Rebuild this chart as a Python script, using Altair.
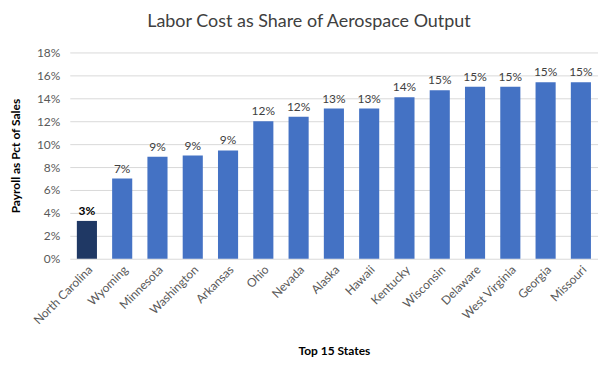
import altair as alt
import pandas as pd

states = ["North Carolina", "Wyoming", "Minnesota", "Washington", "Arkansas", "Ohio",
          "Nevada", "Alaska", "Hawaii", "Kentucky", "Wisconsin", "Delaware",
          "West Virginia", "Georgia", "Missouri"]
values = [0.033, 0.070, 0.089, 0.090, 0.0945, 0.120, 0.124, 0.131, 0.131, 0.141,
          0.147, 0.150, 0.150, 0.154, 0.154]
highlight = ["yes"] + ["no"] * 14
y_ticks = [0.0, 0.02, 0.04, 0.06, 0.08, 0.10, 0.12, 0.14, 0.16, 0.18]

df = pd.DataFrame({"state": states, "value": values, "hl": highlight})

FONT = "Lato"

x = alt.X("state:N", sort=states, title="Top 15 States",
          scale=alt.Scale(paddingInner=0.43, paddingOuter=0.2),
          axis=alt.Axis(labelAngle=-45, labelFontSize=12, labelColor="#595959",
                        labelFont=FONT, ticks=False, domain=False, labelPadding=5,
                        titleFont=FONT, titleFontSize=12, titleFontWeight="bold",
                        titleColor="#000000", titlePadding=20))
y = alt.Y("value:Q", title="Payroll as Pct of Sales",
          scale=alt.Scale(domain=[0, 0.18], nice=False),
          axis=alt.Axis(format=".0%", values=y_ticks, labelOverlap=False,
                        labelFontSize=12, labelColor="#595959", labelFont=FONT,
                        ticks=False, domain=False, labelPadding=10,
                        gridColor="#d9d9d9", gridWidth=1,
                        titleFont=FONT, titleFontSize=12, titleFontWeight="bold",
                        titleColor="#000000", titlePadding=14))

base = alt.Chart(df).encode(x=x, y=y)

bars = base.mark_bar().encode(
    color=alt.Color("hl:N", scale=alt.Scale(domain=["yes", "no"], range=["#1f3864", "#4472c4"]),
                    legend=None),
)

labels_n = base.transform_filter(alt.datum.hl == "no").mark_text(
    dy=-10, fontSize=12, font=FONT, color="#404040").encode(
    text=alt.Text("value:Q", format=".0%"),
)
labels_h = base.transform_filter(alt.datum.hl == "yes").mark_text(
    dy=-10, fontSize=12, font=FONT, color="#000000", fontWeight="bold").encode(
    text=alt.Text("value:Q", format=".0%"),
)

chart = (bars + labels_n + labels_h).properties(
    width=530, height=207,
    autosize=alt.AutoSizeParams(type="none"),
    padding={"left": 62, "top": 44, "right": 0, "bottom": 100},
    title=alt.TitleParams("Labor Cost as Share of Aerospace Output", font=FONT,
                          fontSize=18, fontWeight="normal", color="#404040",
                          anchor="middle", dx=-25, offset=16),
).configure_view(stroke=None)

chart.save("out.html", embed_options={"renderer": "svg", "actions": False})
